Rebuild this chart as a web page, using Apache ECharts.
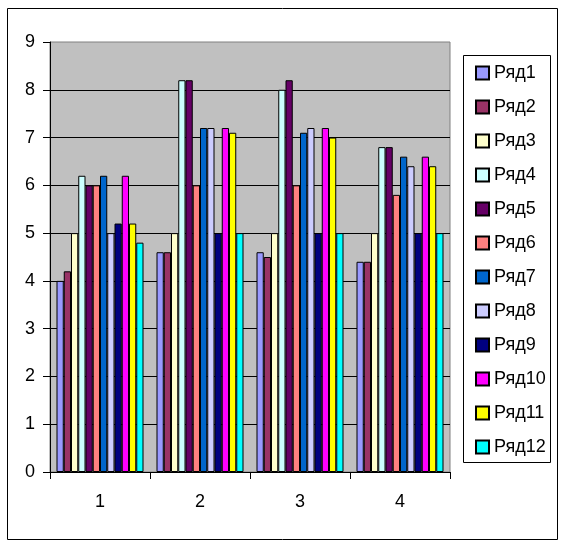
<!DOCTYPE html>
<html>
<head>
<meta charset="utf-8">
<script src="https://cdn.jsdelivr.net/npm/echarts@6/dist/echarts.min.js"></script>
<style>
  html, body { margin: 0; padding: 0; background: #fff; }
  #chart { width: 563px; height: 546px; }
</style>
</head>
<body>
<div id="chart"></div>
<script>
const categories = ["1", "2", "3", "4"];
const seriesNames = ["Ряд1", "Ряд2", "Ряд3", "Ряд4", "Ряд5", "Ряд6", "Ряд7", "Ряд8", "Ряд9", "Ряд10", "Ряд11", "Ряд12"];
const row1 = [4.0, 4.6, 4.6, 4.4];
const row2 = [4.2, 4.6, 4.5, 4.4];
const row3 = [5.0, 5.0, 5.0, 5.0];
const row4 = [6.2, 8.2, 8.0, 6.8];
const row5 = [6.0, 8.2, 8.2, 6.8];
const row6 = [6.0, 6.0, 6.0, 5.8];
const row7 = [6.2, 7.2, 7.1, 6.6];
const row8 = [5.0, 7.2, 7.2, 6.4];
const row9 = [5.2, 5.0, 5.0, 5.0];
const row10 = [6.2, 7.2, 7.2, 6.6];
const row11 = [5.2, 7.1, 7.0, 6.4];
const row12 = [4.8, 5.0, 5.0, 5.0];
const rows = [row1, row2, row3, row4, row5, row6, row7, row8, row9, row10, row11, row12];
const colors = ["#9999FF", "#993366", "#FFFFCC", "#CCFFFF", "#660066", "#FF8080",
  "#0066CC", "#CCCCFF", "#000080", "#FF00FF", "#FFFF00", "#00FFFF"];

const font = "Arial, 'Liberation Sans', sans-serif";
const chart = echarts.init(document.getElementById("chart"), null, { renderer: "canvas" });

chart.setOption({
  animation: false,
  color: colors,
  graphic: [
    { type: "rect", shape: { x: 7.5, y: 8.5, width: 550, height: 531 },
      style: { fill: "none", stroke: "#000", lineWidth: 1 }, z: -1 },
    { type: "rect", shape: { x: 463.5, y: 55.5, width: 87, height: 407 },
      style: { fill: "#fff", stroke: "#000", lineWidth: 1 }, z: -1 }
  ],
  grid: {
    left: 50, right: 113, top: 42, bottom: 74,
    show: true, backgroundColor: "#C0C0C0", borderColor: "#808080", borderWidth: 1
  },
  legend: {
    orient: "vertical",
    left: 470, top: 59,
    itemWidth: 13, itemHeight: 13, itemGap: 16,
    icon: "rect",
    textStyle: { fontFamily: font, fontSize: 18, color: "#000" },
    data: seriesNames
  },
  xAxis: {
    type: "category",
    data: categories,
    axisLine: { lineStyle: { color: "#000", width: 1 } },
    axisTick: { show: true, length: 7, lineStyle: { color: "#000" } },
    axisLabel: { fontFamily: font, fontSize: 18, color: "#000", margin: 21 }
  },
  yAxis: {
    type: "value",
    min: 0, max: 9, interval: 1,
    axisLine: { show: true, lineStyle: { color: "#000", width: 1 } },
    axisTick: { show: true, length: 7, lineStyle: { color: "#000" } },
    axisLabel: { fontFamily: font, fontSize: 18, color: "#000", margin: 15 },
    splitLine: { show: true, showMaxLine: false, lineStyle: { color: "#000", width: 1 } }
  },
  series: rows.map((r, i) => ({
    name: seriesNames[i],
    type: "bar",
    data: r,
    barGap: "0%",
    barCategoryGap: "13%",
    itemStyle: { color: colors[i], borderColor: "#000", borderWidth: 1 }
  }))
});
</script>
</body>
</html>
